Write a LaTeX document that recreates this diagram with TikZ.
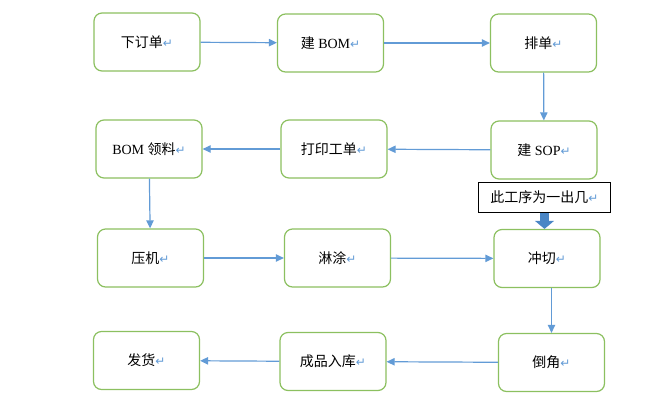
\documentclass[tikz,border=0pt]{standalone}
\usepackage{fontspec}
\setmainfont{Liberation Serif}
\newfontfamily\cjk{Noto Sans CJK SC}
\newfontfamily\symfont{DejaVu Sans}
\usetikzlibrary{arrows.meta, positioning}
\definecolor{boxgreen}{RGB}{140,192,96}
\definecolor{flowblue}{RGB}{98,155,214}
\definecolor{fatblue}{RGB}{74,134,197}
\newcommand{\pmark}{\textcolor{flowblue}{\symfont\small ↵}}
\tikzset{
    stepbox/.style={rectangle, draw=boxgreen, line width=0.9pt, rounded corners=6pt, fill=white,
        minimum width=79.5pt, minimum height=43.5pt, inner sep=2pt, font=\fontsize{10.5}{12}\selectfont},
    notebox/.style={rectangle, draw=black, line width=0.9pt, fill=white,
        minimum width=99.5pt, minimum height=23pt, inner sep=1pt, font=\fontsize{10.5}{12}\selectfont},
    flow/.style={draw=flowblue, line width=0.9pt, -{Triangle[length=6pt, width=5.5pt]}},
    fatflow/.style={draw=fatblue, line width=6.5pt, -{Triangle[length=6pt, width=14pt]}}
}
\begin{document}
\begin{tikzpicture}[x=0.75pt, y=-0.75pt]
% process flow from order to delivery
  \useasboundingbox (0,0) rectangle (672,401);
  \node[stepbox] (order) at (147,42) {{\cjk 下订单}\pmark};
  \node[stepbox] (bom) at (330.5,43) {{\cjk 建} BOM\pmark};
  \node[stepbox] (sched) at (543.5,43) {{\cjk 排单}\pmark};
  \node[stepbox] (sop) at (544,150) {{\cjk 建} SOP\pmark};
  \node[stepbox] (print) at (334,149) {{\cjk 打印工单}\pmark};
  \node[stepbox] (pick) at (149,149) {BOM {\cjk 领料}\pmark};
  \node[stepbox] (press) at (150.5,258) {{\cjk 压机}\pmark};
  \node[stepbox] (coat) at (337.5,258) {{\cjk 淋涂}\pmark};
  \node[stepbox] (cut) at (547,258.5) {{\cjk 冲切}\pmark};
  \node[stepbox] (chamfer) at (551.5,362.5) {{\cjk 倒角}\pmark};
  \node[stepbox] (store) at (333,361.5) {{\cjk 成品入库}\pmark};
  \node[stepbox] (ship) at (146.5,360.5) {{\cjk 发货}\pmark};
  \node[notebox] (note) at (544.5,197.5) {{\cjk 此工序为一出几}\pmark};
  \draw[flow] (order) -- (bom);
  \draw[flow] (bom) -- (sched);
  \draw[flow] (sched) -- (sop);
  \draw[flow] (sop) -- (print);
  \draw[flow] (print) -- (pick);
  \draw[flow] (pick) -- (press);
  \draw[flow] (press) -- (coat);
  \draw[flow] (coat) -- (cut);
  \draw[flow] (cut.south -| chamfer) -- (chamfer);
  \draw[flow] (chamfer) -- (store);
  \draw[flow] (store) -- (ship);
  \draw[fatflow] (note.south) -- (note.south |- cut.north);
\end{tikzpicture}
\end{document}
